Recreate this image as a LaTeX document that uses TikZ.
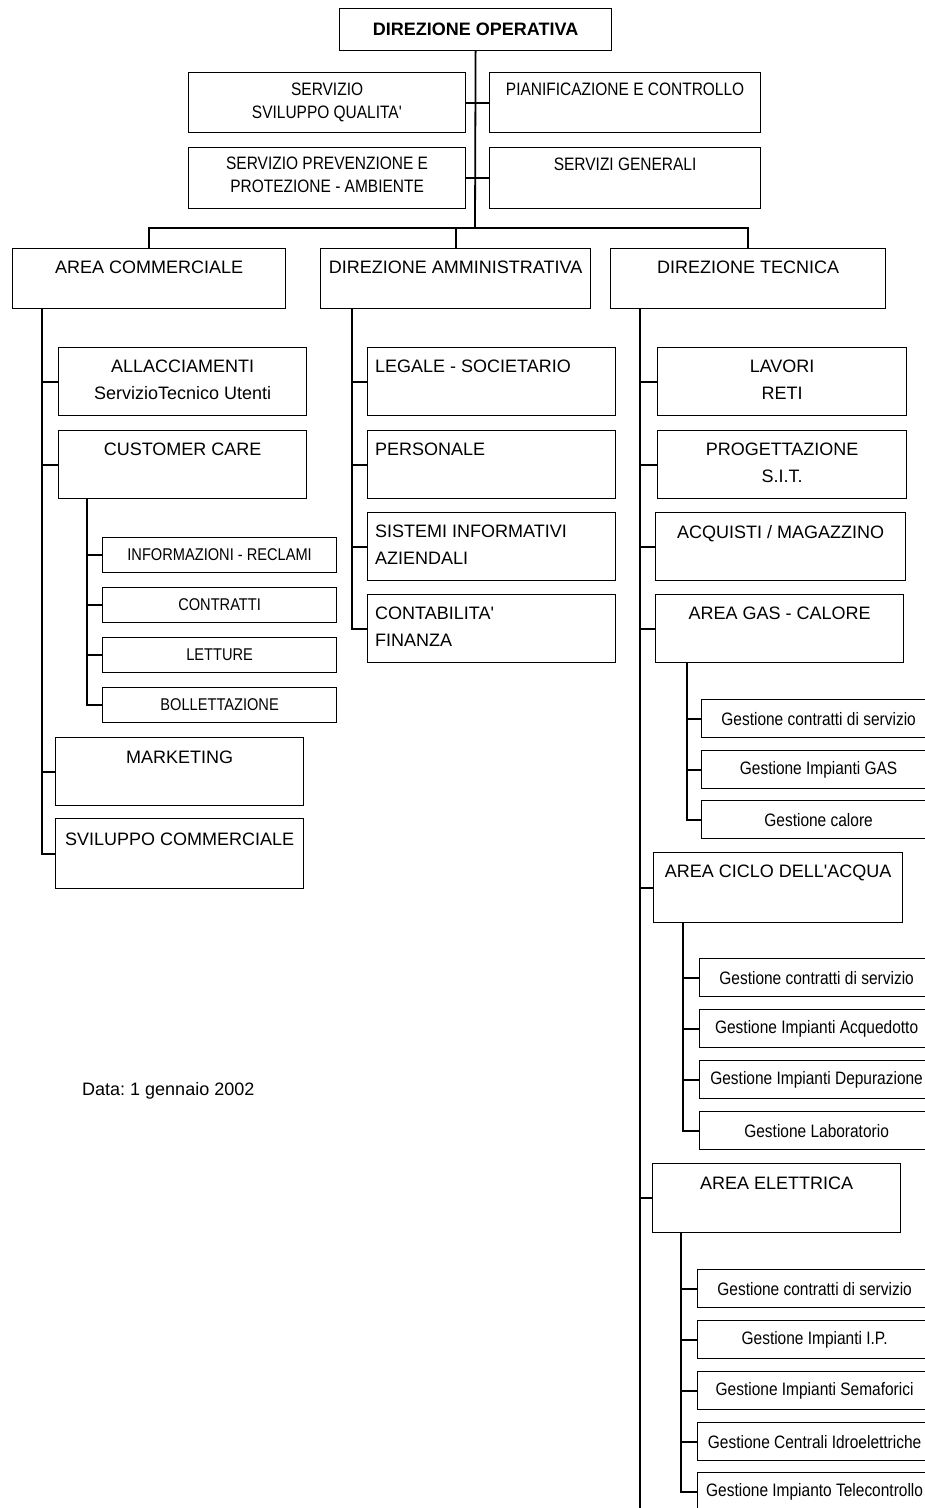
\documentclass[tikz,border=0pt]{standalone}
\usepackage{fontspec}
\setmainfont{Liberation Sans}
\newfontfamily\narrowfont{Liberation Sans}[FakeStretch=0.86]
\usetikzlibrary{positioning}
\frenchspacing
\tikzset{
	box_base/.style = {draw=black, line width=1.2pt, rectangle, anchor=north west,
		inner sep=0pt},
	box_top/.style = {box_base, minimum width=272pt, minimum height=42pt,
		font=\fontsize{18}{21}\selectfont\bfseries},
	box_staff/.style = {box_base, minimum height=60pt},
	box_area/.style = {box_base, minimum height=60pt},
	box_unit/.style = {box_base, minimum width=248pt, minimum height=68pt},
	box_leaf/.style = {box_base, minimum width=234pt, minimum height=35pt,
		font=\narrowfont\fontsize{17}{21}\selectfont},
	box_gest/.style = {box_base, minimum width=234pt, minimum height=38pt,
		font=\narrowfont\fontsize{18}{21}\selectfont},
	lbl_c/.style = {anchor=north, inner sep=0pt, yshift=-13pt, align=center,
		font=\fontsize{18}{27}\selectfont},
	lbl_l/.style = {lbl_c, anchor=north west, xshift=8pt, align=left},
	lbl_staff/.style = {lbl_c, yshift=2pt, font=\narrowfont\fontsize{18}{23}\selectfont},
	link/.style = {draw=black, line width=1.8pt}
}
\begin{document}
\begin{tikzpicture}[x=1pt, y=1pt]
\path[use as bounding box, fill=white] (0,0) rectangle (925,-1508);
% vertice e staff
\node[box_top] (dir_op) at (339,-8) {DIREZIONE OPERATIVA};
\node[box_staff, minimum width=277pt, label={[lbl_staff]north:SERVIZIO\\SVILUPPO QUALITA\textquotesingle}] (s_qual) at (188,-72) {};
\node[box_staff, minimum width=271pt, label={[lbl_staff]north:PIANIFICAZIONE E CONTROLLO}] (s_pian) at (489,-72) {};
\node[box_staff, minimum width=277pt, minimum height=61pt, label={[lbl_staff, yshift=1pt]north:SERVIZIO PREVENZIONE E\\PROTEZIONE - AMBIENTE}] (s_prev) at (188,-147) {};
\node[box_staff, minimum width=271pt, minimum height=61pt, label={[lbl_staff]north:SERVIZI GENERALI}] (s_gen) at (489,-147) {};
% aree
\node[box_area, minimum width=273pt, label={[lbl_c]north:AREA COMMERCIALE}] (a_comm) at (12,-248) {};
\node[box_area, minimum width=270pt, label={[lbl_c]north:DIREZIONE AMMINISTRATIVA}] (d_amm) at (320,-248) {};
\node[box_area, minimum width=275pt, label={[lbl_c]north:DIREZIONE TECNICA}] (d_tec) at (610,-248) {};
% area commerciale
\node[box_unit, label={[lbl_c]north:ALLACCIAMENTI\\ServizioTecnico Utenti}] (c_all) at (58,-347) {};
\node[box_unit, label={[lbl_c]north:CUSTOMER CARE}] (c_care) at (58,-430) {};
\node[box_leaf] (c_info) at (102,-537) {INFORMAZIONI - RECLAMI};
\node[box_leaf] (c_contr) at (102,-587) {CONTRATTI};
\node[box_leaf] (c_lett) at (102,-637) {LETTURE};
\node[box_leaf] (c_boll) at (102,-687) {BOLLETTAZIONE};
\node[box_unit, label={[lbl_c, yshift=-1pt]north:MARKETING}] (c_mark) at (55,-737) {};
\node[box_unit, minimum height=70pt, label={[lbl_c, yshift=-2pt]north:SVILUPPO COMMERCIALE}] (c_svil) at (55,-818) {};
% direzione amministrativa
\node[box_unit, label={[lbl_l]north west:LEGALE - SOCIETARIO}] (a_leg) at (367,-347) {};
\node[box_unit, label={[lbl_l]north west:PERSONALE}] (a_pers) at (367,-430) {};
\node[box_unit, label={[lbl_l]north west:SISTEMI INFORMATIVI\\AZIENDALI}] (a_sist) at (367,-512) {};
\node[box_unit, label={[lbl_l]north west:CONTABILITA\textquotesingle\\FINANZA}] (a_cont) at (367,-594) {};
% direzione tecnica
\node[box_unit, minimum width=249pt, label={[lbl_c]north:LAVORI\\RETI}] (t_lav) at (657,-347) {};
\node[box_unit, minimum width=249pt, label={[lbl_c]north:PROGETTAZIONE\\S.I.T.}] (t_prog) at (657,-430) {};
\node[box_unit, minimum width=250pt, label={[lbl_c]north:ACQUISTI / MAGAZZINO}] (t_acq) at (655,-512) {};
\node[box_unit, label={[lbl_c]north:AREA GAS - CALORE}] (t_gas) at (655,-594) {};
\node[box_gest] (g_contr) at (701,-699) {Gestione contratti di servizio};
\node[box_gest] (g_imp) at (701,-750) {Gestione Impianti GAS};
\node[box_gest] (g_cal) at (701,-800) {Gestione calore};
\node[box_unit, minimum width=249pt, minimum height=70pt, label={[lbl_c]north:AREA CICLO DELL\textquotesingle ACQUA}] (t_acqua) at (653,-852) {};
\node[box_gest] (w_contr) at (699,-958) {Gestione contratti di servizio};
\node[box_gest] (w_acqd) at (699,-1009) {Gestione Impianti Acquedotto};
\node[box_gest] (w_dep) at (699,-1060) {Gestione Impianti Depurazione};
\node[box_gest] (w_lab) at (699,-1111) {Gestione Laboratorio};
\node[box_unit, minimum height=69pt, label={[lbl_c, yshift=-1pt]north:AREA ELETTRICA}] (t_ele) at (652,-1163) {};
\node[box_gest] (e_contr) at (697,-1269) {Gestione contratti di servizio};
\node[box_gest] (e_ip) at (697,-1320) {Gestione Impianti I.P.};
\node[box_gest] (e_sem) at (697,-1371) {Gestione Impianti Semaforici};
\node[box_gest] (e_idro) at (697,-1422) {Gestione Centrali Idroelettriche};
\node[box_gest] (e_tele) at (697,-1472) {Gestione Impianto Telecontrollo};
\node[anchor=west, inner sep=0pt, font=\fontsize{18}{21}\selectfont] (data_note) at (82,-1091) {Data: 1 gennaio 2002};
% collegamenti
\coordinate (bus) at (475,-228);
\draw[link] (dir_op.south) -- (bus);
\draw[link] (s_qual.east) -- (s_pian.west) (s_prev.east) -- (s_gen.west);
\draw[link] (a_comm.north) |- (bus) -| (d_tec.north);
\draw[link] (d_amm.north) -- (d_amm.north |- bus);
\coordinate (sp_c) at ([xshift=30pt]a_comm.south west);
\draw[link] (sp_c) |- (c_svil.west);
\draw[link] (c_all.west) -- (c_all.west -| sp_c) (c_care.west) -- (c_care.west -| sp_c)
	(c_mark.west) -- (c_mark.west -| sp_c);
\coordinate (sp_cc) at ([xshift=29pt]c_care.south west);
\draw[link] (sp_cc) |- (c_boll.west);
\draw[link] (c_info.west) -- (c_info.west -| sp_cc) (c_contr.west) -- (c_contr.west -| sp_cc)
	(c_lett.west) -- (c_lett.west -| sp_cc);
\coordinate (sp_a) at ([xshift=32pt]d_amm.south west);
\draw[link] (sp_a) |- (a_cont.west);
\draw[link] (a_leg.west) -- (a_leg.west -| sp_a) (a_pers.west) -- (a_pers.west -| sp_a)
	(a_sist.west) -- (a_sist.west -| sp_a);
\coordinate (sp_t) at ([xshift=30pt]d_tec.south west);
\coordinate (sp_t_end) at (640,-1508);
\draw[link] (sp_t) -- (sp_t_end);
\draw[link] (t_lav.west) -- (t_lav.west -| sp_t) (t_prog.west) -- (t_prog.west -| sp_t)
	(t_acq.west) -- (t_acq.west -| sp_t) (t_gas.west) -- (t_gas.west -| sp_t)
	(t_acqua.west) -- (t_acqua.west -| sp_t) (t_ele.west) -- (t_ele.west -| sp_t);
\coordinate (sp_g) at ([xshift=32pt]t_gas.south west);
\draw[link] (sp_g) |- (g_cal.west);
\draw[link] (g_contr.west) -- (g_contr.west -| sp_g) (g_imp.west) -- (g_imp.west -| sp_g);
\coordinate (sp_w) at ([xshift=30pt]t_acqua.south west);
\draw[link] (sp_w) |- (w_lab.west);
\draw[link] (w_contr.west) -- (w_contr.west -| sp_w) (w_acqd.west) -- (w_acqd.west -| sp_w)
	(w_dep.west) -- (w_dep.west -| sp_w);
\coordinate (sp_e) at ([xshift=29pt]t_ele.south west);
\draw[link] (sp_e) |- (e_tele.west);
\draw[link] (e_contr.west) -- (e_contr.west -| sp_e) (e_ip.west) -- (e_ip.west -| sp_e)
	(e_sem.west) -- (e_sem.west -| sp_e) (e_idro.west) -- (e_idro.west -| sp_e);
\end{tikzpicture}
\end{document}
